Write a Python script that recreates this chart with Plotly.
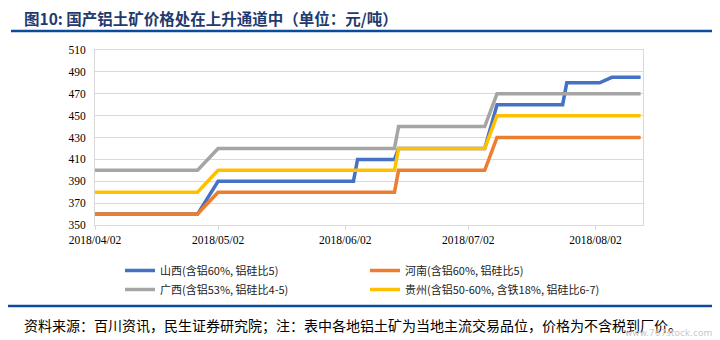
import plotly.graph_objects as go

# ---- data ----
dates = ["2018-04-02", "2018-04-27", "2018-05-02", "2018-06-04", "2018-06-05",
         "2018-06-14", "2018-06-15", "2018-07-06", "2018-07-09", "2018-07-25",
         "2018-07-26", "2018-08-03", "2018-08-06", "2018-08-13"]
shanxi  = [360, 360, 390, 390, 410, 410, 420, 420, 460, 460, 480, 480, 485, 485]
henan   = [360, 360, 380, 380, 380, 380, 400, 400, 430, 430, 430, 430, 430, 430]
guangxi = [400, 400, 420, 420, 420, 420, 440, 440, 470, 470, 470, 470, 470, 470]
guizhou = [380, 380, 400, 400, 400, 400, 420, 420, 450, 450, 450, 450, 450, 450]

series_names = ["山西(含铝60%, 铝硅比5)", "河南(含铝60%, 铝硅比5)",
                "广西(含铝53%, 铝硅比4-5)", "贵州(含铝50-60%, 含铁18%, 铝硅比6-7)"]
series_colors = ["#4472C4", "#ED7D31", "#A5A5A5", "#FFC000"]

tick_dates = ["2018-04-02", "2018-05-02", "2018-06-02", "2018-07-02", "2018-08-02"]
tick_labels = ["2018/04/02", "2018/05/02", "2018/06/02", "2018/07/02", "2018/08/02"]
y_ticks = [350, 370, 390, 410, 430, 450, 470, 490, 510]

title_text = "图10: 国产铝土矿价格处在上升通道中（单位：元/吨）"
source_text = "资料来源：百川资讯，民生证券研究院；注：表中各地铝土矿为当地主流交易品位，价格为不含税到厂价。"
watermark_text = "www.767stock.com"

# ---- layout geometry ----
W, H = 720, 340
L, R, T, B = 95, 77, 50, 115
PW, PH = W - L - R, H - T - B


def px(x):
    return (x - L) / PW


def py(y):
    return (H - B - y) / PH


CJK = "Noto Sans CJK SC"
SERIF = "Liberation Serif"

fig = go.Figure()
for name, vals, col in zip(series_names, [shanxi, henan, guangxi, guizhou], series_colors):
    fig.add_trace(go.Scatter(x=dates, y=vals, mode="lines", name=name,
                             line=dict(color=col, width=3.5)))

fig.update_layout(
    width=W, height=H,
    margin=dict(l=L, r=R, t=T, b=B),
    paper_bgcolor="white", plot_bgcolor="white",
    showlegend=True,
    legend=dict(orientation="h", x=px(120), xanchor="left", y=py(256), yanchor="top",
                entrywidth=200, entrywidthmode="pixels",
                font=dict(family=CJK, size=11, color="#222222"),
                bgcolor="rgba(0,0,0,0)", tracegroupgap=0),
    xaxis=dict(type="date", range=["2018-04-02", "2018-08-13 14:00"],
               tickvals=tick_dates, ticktext=tick_labels,
               tickfont=dict(family=SERIF, size=11.5, color="#000000"),
               showgrid=False, showline=True, linecolor="#D9D9D9", linewidth=1,
               mirror=True, ticks="outside", ticklen=4, tickcolor="#D9D9D9",
               zeroline=False),
    yaxis=dict(range=[350, 510], tickvals=y_ticks,
               tickfont=dict(family=SERIF, size=11.5, color="#000000"),
               showgrid=True, gridcolor="#D9D9D9", gridwidth=1,
               showline=True, linecolor="#D9D9D9", linewidth=1, mirror=True,
               ticks="", ticklabelstandoff=6, zeroline=False),
    shapes=[
        dict(type="line", xref="paper", yref="paper", x0=px(11), x1=px(712),
             y0=py(31), y1=py(31), line=dict(color="#0B4C9A", width=2.5)),
        dict(type="line", xref="paper", yref="paper", x0=px(8), x1=px(712),
             y0=py(306), y1=py(306), line=dict(color="#0B4C9A", width=2.5)),
    ],
    annotations=[
        dict(text="<b>" + title_text + "</b>", xref="paper", yref="paper",
             x=px(22), y=py(18), xanchor="left", yanchor="middle", showarrow=False,
             font=dict(family=CJK, size=15.5, color="#1F3A6E")),
        dict(text=source_text, xref="paper", yref="paper",
             x=px(22), y=py(325), xanchor="left", yanchor="middle", showarrow=False,
             font=dict(family=CJK, size=14, color="#000000")),
        dict(text=watermark_text, xref="paper", yref="paper",
             x=px(714), y=py(333), xanchor="right", yanchor="middle", showarrow=False,
             font=dict(family="DejaVu Sans", size=9, color="#C8C8C8")),
    ],
)

fig.write_html("out.html")
